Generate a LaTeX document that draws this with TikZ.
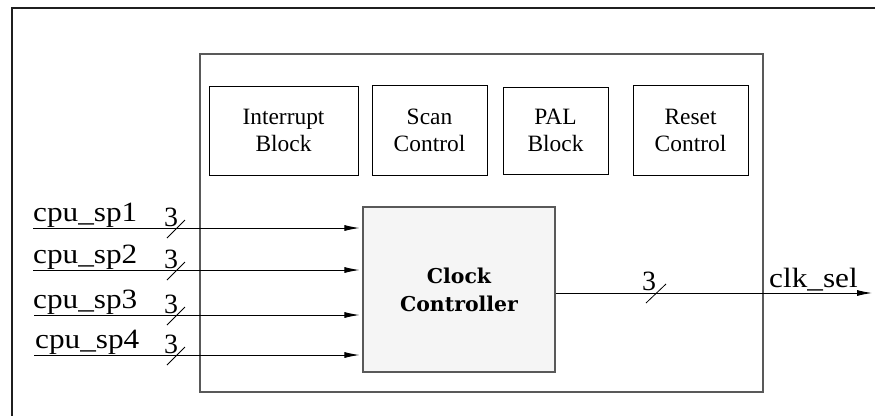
\documentclass[tikz,border=0pt]{standalone}
\usepackage{fontspec}
\setmainfont{Liberation Serif}
\newfontfamily\boldfam{DejaVu Serif}
\usetikzlibrary{arrows.meta}
\newcommand{\widetext}[1]{\scalebox{1.12}[1]{#1}}
\begin{document}
\begin{tikzpicture}[x=1bp,y=-1bp,
  frameline/.style={line width=2.2bp, draw=black!88},
  mainbox/.style={draw=black!65, line width=1.3bp},
  subbox/.style={draw=black, line width=0.9bp, align=center, inner sep=0pt,
     font=\fontsize{23.5}{27}\selectfont},
  clkbox/.style={draw=black!65, line width=1.1bp, fill=black!4, align=center, inner sep=0pt,
     font=\boldfam\bfseries\fontsize{20.5}{28}\selectfont},
  lbl/.style={inner sep=0pt, font=\fontsize{28}{28}\selectfont},
  arr/.style={line width=0.9bp, -{Latex[length=15bp,width=6bp]}},
  slash/.style={line width=0.8bp}
]
\useasboundingbox (0,0) rectangle (875,415);
% outer frame
\coordinate (ftl) at (12,8);
\coordinate (ftr) at (876,8);
\coordinate (fbl) at (12,416);
\draw[frameline] (ftr) -- (ftl) -- (fbl);
% main box
\node[mainbox, minimum width=563bp, minimum height=338bp, inner sep=0pt] (main) at (481.5,223) {};
% sub blocks
\node[subbox, minimum width=149bp, minimum height=89bp] (intr) at (283.5,130.5) {Interrupt\\Block};
\node[subbox, minimum width=115bp, minimum height=90bp] (scan) at (429.5,130) {Scan\\Control};
\node[subbox, minimum width=105bp, minimum height=87bp] (pal) at (555.5,130.5) {PAL\\Block};
\node[subbox, minimum width=115bp, minimum height=90bp] (rst) at (690.5,130) {Reset\\Control};
% clock controller
\node[clkbox, minimum width=192bp, minimum height=165bp] (clk) at (459,289.5) {Clock\\Controller};
% inputs
\coordinate (i1) at (33,228);
\coordinate (i2) at (33,270);
\coordinate (i3) at (34,315);
\coordinate (i4) at (34,355);
\foreach \k in {1,2,3,4}{
  \draw[arr, shorten >=3bp] (i\k) -- (clk.west |- i\k);
}
\node[lbl, anchor=base west] (l1) at (33,221) {\widetext{cpu\_sp1}};
\node[lbl, anchor=base west] (l2) at (33,263) {\widetext{cpu\_sp2}};
\node[lbl, anchor=base west] (l3) at (33,308) {\widetext{cpu\_sp3}};
\node[lbl, anchor=base west] (l4) at (35,348) {\widetext{cpu\_sp4}};
\foreach \k/\y in {1/228,2/270,3/315,4/355}{
  \node[lbl, anchor=base west] (n\k) at (164,\y-2) {3};
  \coordinate (s\k) at (176,\y);
  \draw[slash] ([shift={(-9,10)}]s\k) -- ([shift={(9,-8)}]s\k);
}
% output
\coordinate (o) at (872,293);
\draw[arr] (clk.east |- o) -- (o);
\node[lbl, anchor=base west] (no) at (642,290) {3};
\coordinate (so) at (656,293);
\draw[slash] ([shift={(-10,10)}]so) -- ([shift={(10,-9)}]so);
\node[lbl, anchor=base west] (lo) at (769,287) {\widetext{clk\_sel}};
\end{tikzpicture}
\end{document}
